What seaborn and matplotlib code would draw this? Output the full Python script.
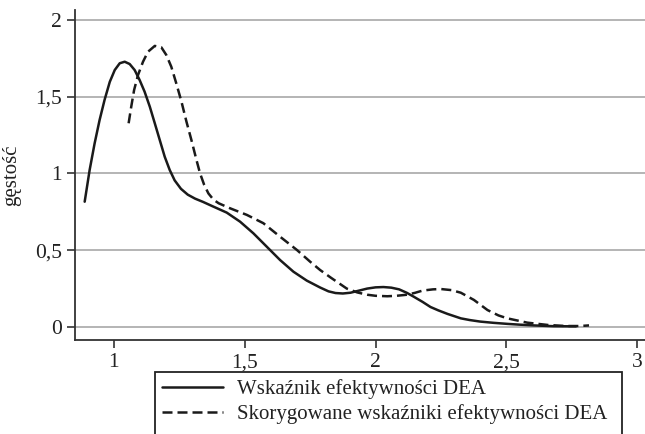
import pandas as pd
import seaborn as sns
import matplotlib.pyplot as plt
from matplotlib.patches import Rectangle
from matplotlib.ticker import FuncFormatter

# values
label_dea = 'Wskaźnik efektywności DEA'
label_skor = 'Skorygowane wskaźniki efektywności DEA'

x_dea = [0.888, 0.907, 0.926, 0.945, 0.964, 0.984, 1.003, 1.022, 1.041, 1.060,
         1.079, 1.098, 1.117, 1.137, 1.156, 1.175, 1.194, 1.213, 1.232, 1.256,
         1.282, 1.310, 1.340, 1.380, 1.431, 1.482, 1.533, 1.584, 1.635, 1.686,
         1.737, 1.788, 1.82, 1.847, 1.875, 1.904, 1.935, 1.968, 2.0, 2.03,
         2.06, 2.09, 2.12, 2.146, 2.18, 2.21, 2.24, 2.275, 2.326, 2.36,
         2.40, 2.45, 2.504, 2.55, 2.605, 2.68, 2.766]
y_dea = [0.816, 1.023, 1.196, 1.348, 1.479, 1.597, 1.674, 1.718, 1.728, 1.713,
         1.674, 1.609, 1.533, 1.435, 1.327, 1.218, 1.109, 1.023, 0.955, 0.900,
         0.862, 0.836, 0.815, 0.784, 0.745, 0.686, 0.610, 0.523, 0.436, 0.360,
         0.302, 0.257, 0.232, 0.221, 0.218, 0.223, 0.236, 0.250, 0.258, 0.260,
         0.256, 0.245, 0.222, 0.197, 0.163, 0.130, 0.108, 0.085, 0.056, 0.045,
         0.035, 0.027, 0.020, 0.015, 0.010, 0.005, 0.004]

x_skor = [1.056, 1.066, 1.077, 1.092, 1.111, 1.130, 1.156, 1.181, 1.200, 1.219,
          1.238, 1.258, 1.277, 1.296, 1.315, 1.329, 1.345, 1.361, 1.380, 1.400,
          1.444, 1.508, 1.571, 1.635, 1.699, 1.750, 1.788, 1.83, 1.86, 1.89,
          1.93, 1.968, 2.0, 2.045, 2.08, 2.12, 2.15, 2.18, 2.22, 2.25,
          2.29, 2.326, 2.376, 2.428, 2.47, 2.504, 2.58, 2.658, 2.73, 2.78, 2.816]
y_skor = [1.327, 1.435, 1.544, 1.642, 1.728, 1.793, 1.831, 1.822, 1.772, 1.696,
          1.588, 1.468, 1.338, 1.218, 1.090, 1.001, 0.925, 0.870, 0.830, 0.806,
          0.773, 0.730, 0.676, 0.588, 0.502, 0.425, 0.371, 0.320, 0.285, 0.250,
          0.225, 0.210, 0.203, 0.200, 0.203, 0.210, 0.222, 0.237, 0.245, 0.247,
          0.240, 0.223, 0.176, 0.110, 0.075, 0.056, 0.028, 0.013, 0.006, 0.006, 0.010]

x_ticks = [1, 1.5, 2, 2.5, 3]
y_ticks = [0, 0.5, 1, 1.5, 2]

df = pd.concat([
    pd.DataFrame({'x': x_dea, 'y': y_dea, 'seria': label_dea}),
    pd.DataFrame({'x': x_skor, 'y': y_skor, 'seria': label_skor}),
])

sns.set_style('white')
plt.rcParams['font.family'] = ['Liberation Serif', 'DejaVu Serif']

fig = plt.figure(figsize=(6.45, 4.34), dpi=100)
ax = fig.add_axes([75 / 645, 1 - 340 / 434, 1 - 75 / 645, 330 / 434])

sns.lineplot(data=df, x='x', y='y', hue='seria', style='seria',
             palette={label_dea: '#1a1a1a', label_skor: '#1a1a1a'},
             dashes={label_dea: '', label_skor: (4, 2)},
             sort=False, estimator=None, linewidth=1.8, ax=ax, legend=False)

ax.set_xlim(0.851, 3.03)
ax.set_ylim(-0.085, 2.065)
ax.set_xticks(x_ticks)
ax.set_yticks(y_ticks)
fmt = FuncFormatter(lambda v, p: ('%g' % v).replace('.', ','))
ax.xaxis.set_major_formatter(fmt)
ax.yaxis.set_major_formatter(fmt)
ax.tick_params(axis='both', direction='out', length=6, width=1.2, color='#333333',
               labelsize=15.5, labelcolor='#222222', bottom=True, left=True)
ax.yaxis.grid(True, color='#b4b4b4', linewidth=1.4)
ax.xaxis.grid(False)
for side in ['top', 'right']:
    ax.spines[side].set_visible(False)
for side in ['left', 'bottom']:
    ax.spines[side].set_color('#333333')
    ax.spines[side].set_linewidth(1.3)
ax.set_xlabel('')
ax.set_ylabel('gęstość', fontsize=15, color='#222222', labelpad=10)

# legend below the plot; its box runs past the bottom edge of the figure
handles = [plt.Line2D([], [], color='#1a1a1a', lw=1.8),
           plt.Line2D([], [], color='#1a1a1a', lw=1.8, linestyle=(0, (4, 2)))]
leg = fig.legend(handles, [label_dea, label_skor], loc='upper left',
                 bbox_to_anchor=(155 / 645, -0.5, 467 / 645, 0.5 + 62 / 434),
                 mode='expand', fontsize=15, frameon=False, handlelength=2.9,
                 handletextpad=0.7, borderpad=0.35, labelspacing=0.25,
                 borderaxespad=0)
for t in leg.get_texts():
    t.set_color('#222222')
fig.patches.append(Rectangle((155 / 645, -0.1), 467 / 645, 0.1 + 62 / 434,
                             transform=fig.transFigure, fill=False,
                             edgecolor='#222222', linewidth=1.3))

fig.savefig('out.png', dpi=100)
